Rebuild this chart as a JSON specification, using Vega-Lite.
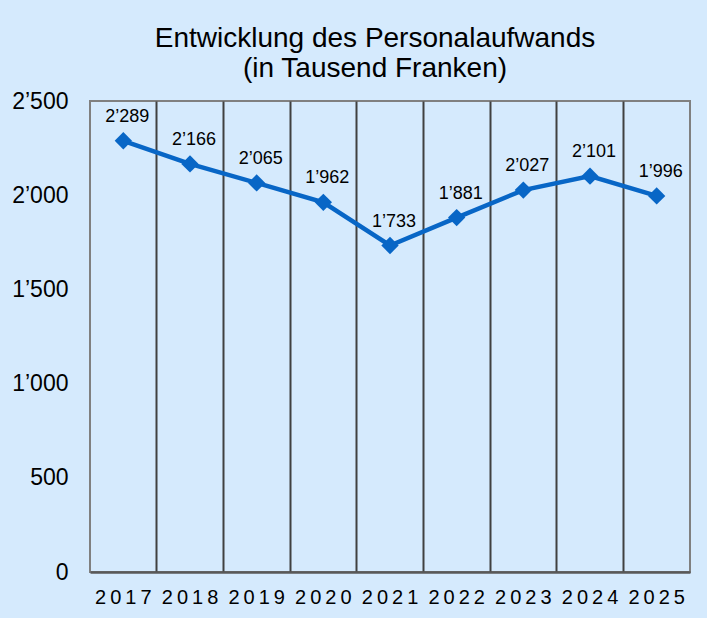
{
  "$schema": "https://vega.github.io/schema/vega-lite/v6.json",
  "autosize": "none",
  "width": 600,
  "height": 471,
  "padding": {"left": 90, "top": 101, "right": 17, "bottom": 46},
  "background": "#D5EAFD",
  "title": {
    "text": ["Entwicklung des Personalaufwands", "(in Tausend Franken)"],
    "font": "Liberation Sans",
    "fontSize": 28,
    "fontWeight": "normal",
    "lineHeight": 30,
    "color": "#000000",
    "anchor": "middle",
    "dx": -15,
    "offset": 7
  },
  "config": {
    "locale": {
      "number": {"decimal": ".", "thousands": "’", "grouping": [3], "currency": ["", ""]}
    },
    "view": {"stroke": "#808080", "strokeWidth": 2, "fill": "#D5EAFD"}
  },
  "data": {
    "values": [
      {"year": "2017", "value": 2289},
      {"year": "2018", "value": 2166},
      {"year": "2019", "value": 2065},
      {"year": "2020", "value": 1962},
      {"year": "2021", "value": 1733},
      {"year": "2022", "value": 1881},
      {"year": "2023", "value": 2027},
      {"year": "2024", "value": 2101},
      {"year": "2025", "value": 1996}
    ]
  },
  "encoding": {
    "x": {
      "field": "year",
      "type": "ordinal",
      "scale": {"type": "band", "paddingInner": 0, "paddingOuter": 0},
      "axis": {
        "title": null,
        "labelAngle": 0,
        "labelFont": "Liberation Sans",
        "labelFontSize": 20,
        "labelColor": "#000000",
        "labelPadding": 15,
        "labelExpr": "join(split(datum.label, ''), '\u2009')",
        "ticks": false,
        "grid": true,
        "bandPosition": 0,
        "gridColor": "#404040",
        "gridWidth": 2,
        "gridOpacity": {"condition": {"test": "datum.value === '2017'", "value": 0}, "value": 1},
        "domainColor": "#595959",
        "domainWidth": 2.5
      }
    },
    "y": {
      "field": "value",
      "type": "quantitative",
      "scale": {"domain": [0, 2500], "nice": false},
      "axis": {
        "title": null,
        "values": [0, 500, 1000, 1500, 2000, 2500],
        "format": ",d",
        "labelFont": "Liberation Sans",
        "labelFontSize": 23,
        "labelColor": "#000000",
        "labelPadding": 22,
        "ticks": false,
        "domain": false,
        "grid": false
      }
    }
  },
  "layer": [
    {
      "mark": {"type": "line", "color": "#0866C6", "strokeWidth": 4.5},
      "encoding": {}
    },
    {
      "mark": {"type": "point", "shape": "diamond", "filled": true, "size": 300, "color": "#0866C6", "opacity": 1},
      "encoding": {}
    },
    {
      "mark": {"type": "text", "font": "Liberation Sans", "fontSize": 18, "color": "#000000", "dx": 4, "dy": -19, "baseline": "alphabetic"},
      "encoding": {"text": {"field": "value", "type": "quantitative", "format": ","}}
    }
  ]
}
